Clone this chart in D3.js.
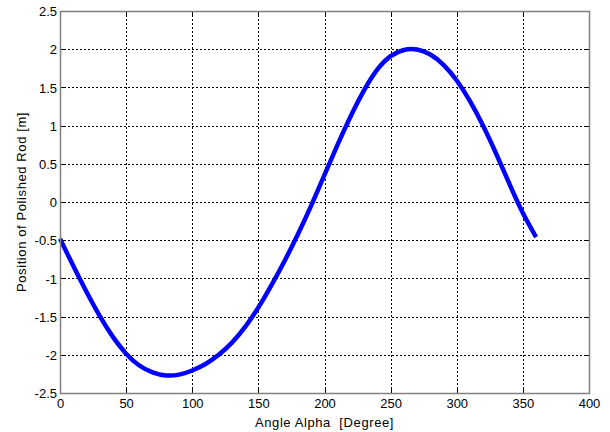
<!DOCTYPE html>
<html>
<head>
<meta charset="utf-8">
<script src="https://cdn.jsdelivr.net/npm/d3@7"></script>
<style>
  html, body { margin: 0; padding: 0; background: #fff; }
  svg { display: block; }
  text { font-family: "Liberation Sans", Arial, sans-serif; fill: #000; }
</style>
</head>
<body>
<svg id="chart" width="610" height="432"></svg>
<script>
// Polished rod position over one crank revolution (every 10 degrees)
const angleDeg = [0, 10, 20, 30, 40, 50, 60, 70, 80, 90, 100, 110, 120, 130, 140, 150, 160, 170, 180,
  190, 200, 210, 220, 230, 240, 250, 260, 270, 280, 290, 300, 310, 320, 330, 340, 350, 360];
const rodPosition = [-0.48, -0.835, -1.175, -1.49, -1.765, -1.985, -2.14, -2.23, -2.27, -2.26,
  -2.205, -2.12, -2.0, -1.84, -1.635, -1.38, -1.085, -0.765, -0.42, -0.045, 0.355, 0.755,
  1.13, 1.465, 1.735, 1.91, 1.99, 1.995, 1.93, 1.795, 1.59, 1.32, 0.995, 0.625, 0.23,
  -0.145, -0.46];

const xTicks = [0, 50, 100, 150, 200, 250, 300, 350, 400];
const yTicks = [-2.5, -2, -1.5, -1, -0.5, 0, 0.5, 1, 1.5, 2, 2.5];

const xLabel = "Angle Alpha\u00a0 [Degree]";
const yLabel = "Position of Polished Rod [m]";

const plotL = 60, plotR = 589, plotT = 11, plotB = 393;

const svg = d3.select("#chart");

const x = d3.scaleLinear().domain([0, 400]).range([plotL, plotR]);
const y = d3.scaleLinear().domain([-2.5, 2.5]).range([plotB, plotT]);

// Dotted grid
const grid = svg.append("g").attr("stroke", "#000").attr("stroke-width", 1)
  .attr("stroke-dasharray", "2,2").attr("fill", "none");
grid.selectAll("line.gx").data(xTicks.slice(1, -1)).join("line")
  .attr("x1", d => Math.round(x(d)) + 0.5).attr("x2", d => Math.round(x(d)) + 0.5)
  .attr("y1", plotT).attr("y2", plotB);
grid.selectAll("line.gy").data(yTicks.slice(1, -1)).join("line")
  .attr("y1", d => Math.round(y(d)) + 0.5).attr("y2", d => Math.round(y(d)) + 0.5)
  .attr("x1", plotL).attr("x2", plotR);

// Inward tick marks on all four sides
const tickLen = 5;
const ticks = svg.append("g").attr("stroke", "#000").attr("stroke-width", 1);
xTicks.forEach(d => {
  const px = Math.round(x(d)) + 0.5;
  ticks.append("line").attr("x1", px).attr("x2", px).attr("y1", plotB).attr("y2", plotB - tickLen);
  ticks.append("line").attr("x1", px).attr("x2", px).attr("y1", plotT).attr("y2", plotT + tickLen);
});
yTicks.forEach(d => {
  const py = Math.round(y(d)) + 0.5;
  ticks.append("line").attr("x1", plotL).attr("x2", plotL + tickLen).attr("y1", py).attr("y2", py);
  ticks.append("line").attr("x1", plotR).attr("x2", plotR - tickLen).attr("y1", py).attr("y2", py);
});

// Curve
const line = d3.line()
  .x((d, i) => x(angleDeg[i]))
  .y(d => y(d))
  .curve(d3.curveNatural);

svg.append("path")
  .datum(rodPosition)
  .attr("d", line)
  .attr("fill", "none")
  .attr("stroke", "#0000ff")
  .attr("stroke-width", 4.5)
  .attr("stroke-linejoin", "round");

// Axis box
svg.append("rect")
  .attr("x", plotL + 0.5).attr("y", plotT + 0.5)
  .attr("width", plotR - plotL).attr("height", plotB - plotT)
  .attr("fill", "none").attr("stroke", "#808080").attr("stroke-width", 1.5);

// Tick labels
const axB = d3.axisBottom(x).tickValues(xTicks).tickSize(0).tickFormat(d3.format("d"));
const axL = d3.axisLeft(y).tickValues(yTicks).tickSize(0).tickFormat(d => String(d));

const gx = svg.append("g").attr("transform", `translate(0,${plotB})`).call(axB);
gx.select(".domain").remove();
gx.selectAll("text").attr("dy", null).attr("y", 15).attr("font-size", 13)
  .attr("font-family", "Liberation Sans, Arial, sans-serif").attr("fill", "#000");

const gy = svg.append("g").attr("transform", `translate(${plotL},0)`).call(axL);
gy.select(".domain").remove();
gy.selectAll("text").attr("x", -3).attr("dy", "0.36em").attr("font-size", 13)
  .attr("font-family", "Liberation Sans, Arial, sans-serif").attr("fill", "#000");

// Axis titles
svg.append("text")
  .attr("x", (plotL + plotR) / 2).attr("y", 427)
  .attr("text-anchor", "middle").attr("font-size", 13)
  .attr("letter-spacing", 0.6)
  .text(xLabel);

svg.append("text")
  .attr("transform", `translate(26,${(plotT + plotB) / 2}) rotate(-90)`)
  .attr("text-anchor", "middle").attr("font-size", 13)
  .attr("letter-spacing", 0.6)
  .text(yLabel);
</script>
</body>
</html>
